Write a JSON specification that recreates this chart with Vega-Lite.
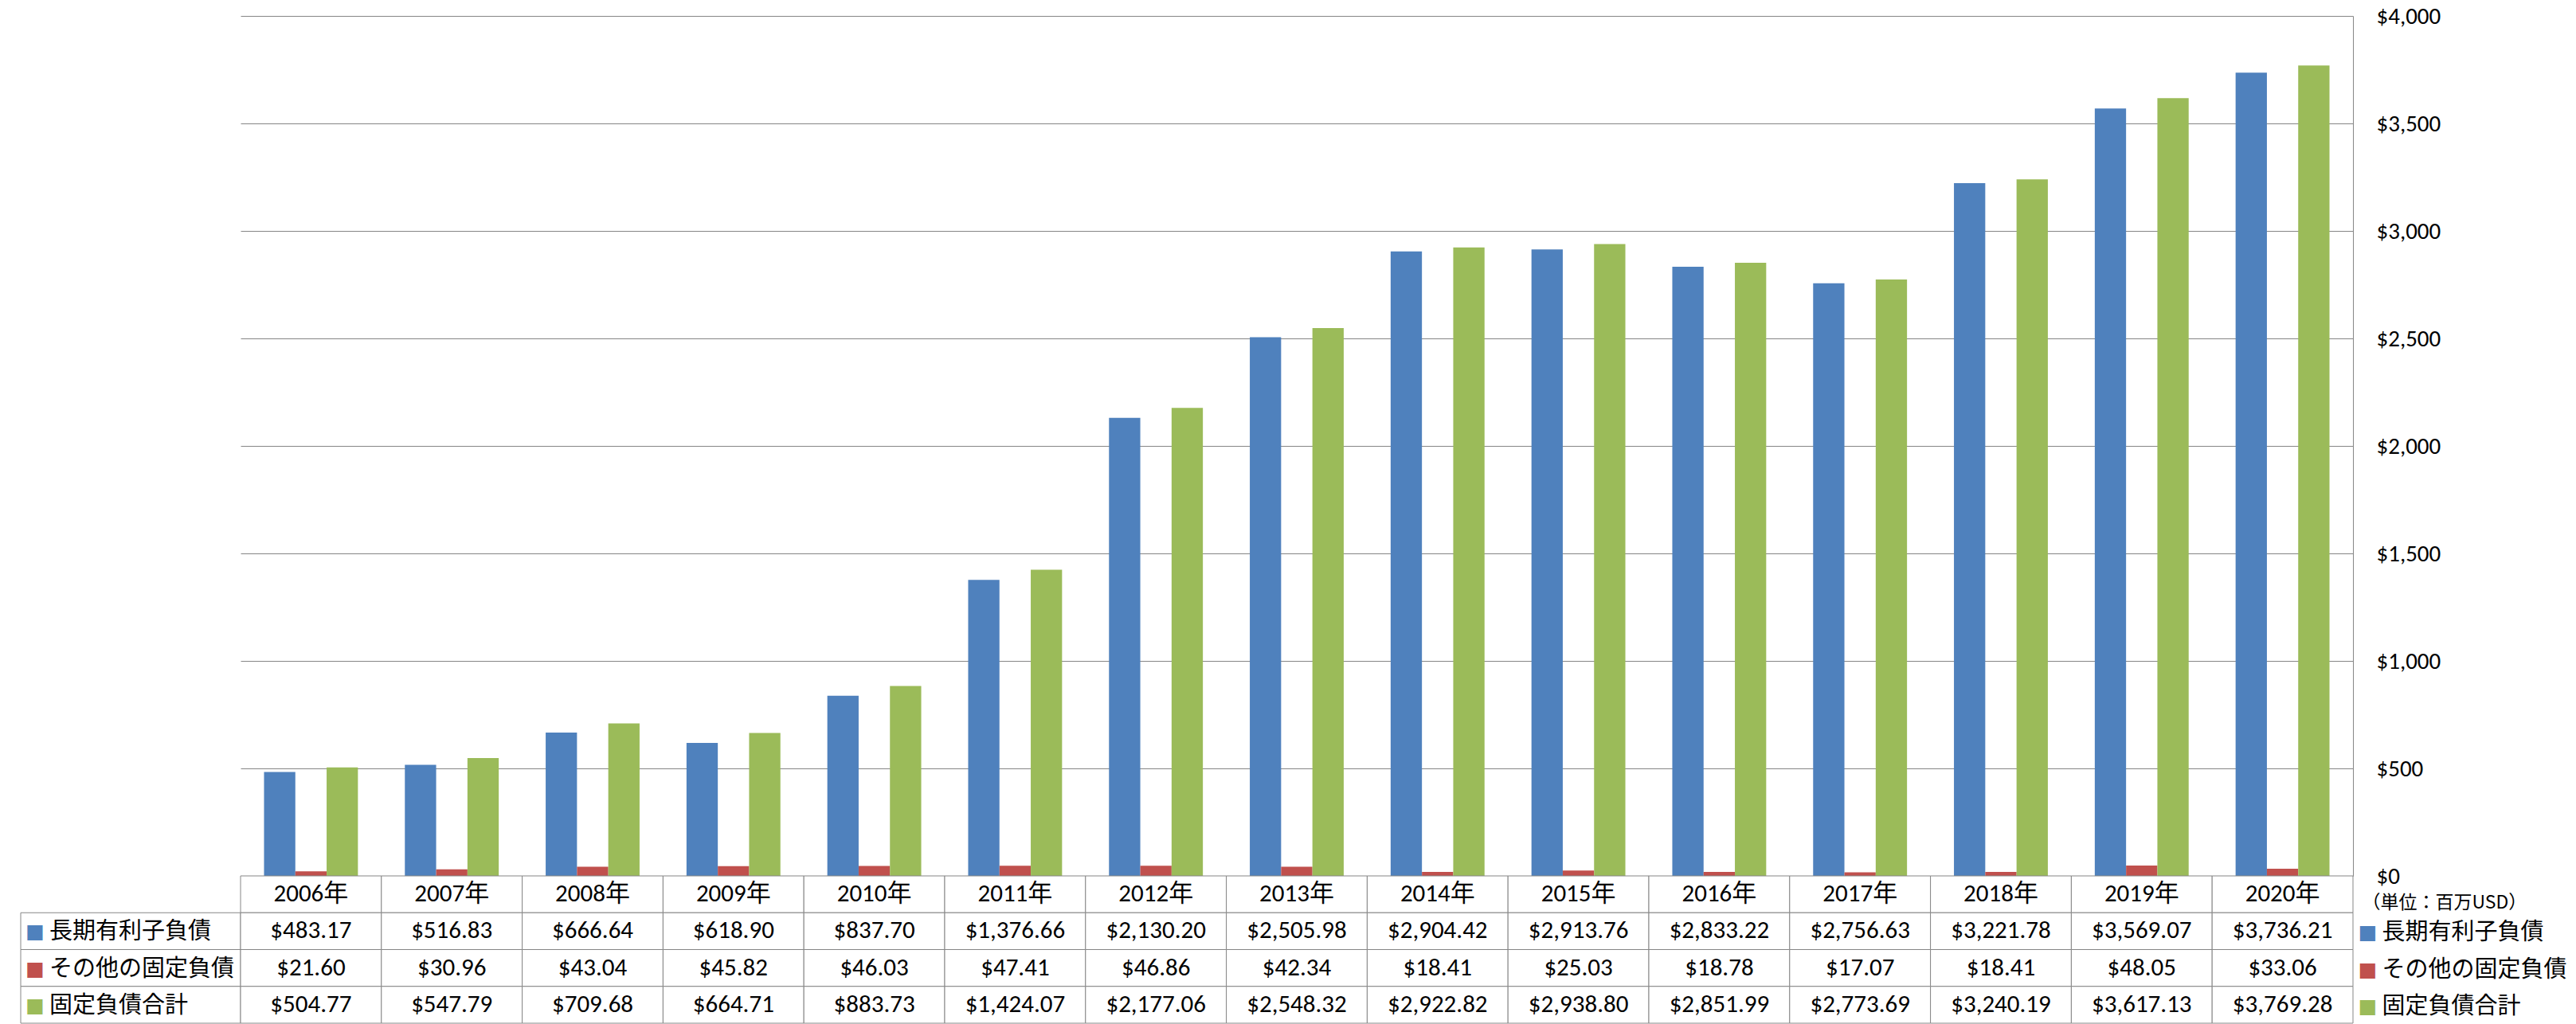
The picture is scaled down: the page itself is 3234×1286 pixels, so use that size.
{
  "$schema": "https://vega.github.io/schema/vega-lite/v6.json",
  "background": "white",
  "padding": {"left": 25, "top": 6, "right": 0, "bottom": 0},
  "config": {
    "view": {"stroke": null},
    "font": "Carlito, 'Noto Sans CJK JP', sans-serif",
    "text": {"color": "black"}
  },
  "datasets": {
    "d": [
      {"year": "2006年", "series": "長期有利子負債", "value": 483.17},
      {"year": "2006年", "series": "その他の固定負債", "value": 21.60},
      {"year": "2006年", "series": "固定負債合計", "value": 504.77},
      {"year": "2007年", "series": "長期有利子負債", "value": 516.83},
      {"year": "2007年", "series": "その他の固定負債", "value": 30.96},
      {"year": "2007年", "series": "固定負債合計", "value": 547.79},
      {"year": "2008年", "series": "長期有利子負債", "value": 666.64},
      {"year": "2008年", "series": "その他の固定負債", "value": 43.04},
      {"year": "2008年", "series": "固定負債合計", "value": 709.68},
      {"year": "2009年", "series": "長期有利子負債", "value": 618.90},
      {"year": "2009年", "series": "その他の固定負債", "value": 45.82},
      {"year": "2009年", "series": "固定負債合計", "value": 664.71},
      {"year": "2010年", "series": "長期有利子負債", "value": 837.70},
      {"year": "2010年", "series": "その他の固定負債", "value": 46.03},
      {"year": "2010年", "series": "固定負債合計", "value": 883.73},
      {"year": "2011年", "series": "長期有利子負債", "value": 1376.66},
      {"year": "2011年", "series": "その他の固定負債", "value": 47.41},
      {"year": "2011年", "series": "固定負債合計", "value": 1424.07},
      {"year": "2012年", "series": "長期有利子負債", "value": 2130.20},
      {"year": "2012年", "series": "その他の固定負債", "value": 46.86},
      {"year": "2012年", "series": "固定負債合計", "value": 2177.06},
      {"year": "2013年", "series": "長期有利子負債", "value": 2505.98},
      {"year": "2013年", "series": "その他の固定負債", "value": 42.34},
      {"year": "2013年", "series": "固定負債合計", "value": 2548.32},
      {"year": "2014年", "series": "長期有利子負債", "value": 2904.42},
      {"year": "2014年", "series": "その他の固定負債", "value": 18.41},
      {"year": "2014年", "series": "固定負債合計", "value": 2922.82},
      {"year": "2015年", "series": "長期有利子負債", "value": 2913.76},
      {"year": "2015年", "series": "その他の固定負債", "value": 25.03},
      {"year": "2015年", "series": "固定負債合計", "value": 2938.80},
      {"year": "2016年", "series": "長期有利子負債", "value": 2833.22},
      {"year": "2016年", "series": "その他の固定負債", "value": 18.78},
      {"year": "2016年", "series": "固定負債合計", "value": 2851.99},
      {"year": "2017年", "series": "長期有利子負債", "value": 2756.63},
      {"year": "2017年", "series": "その他の固定負債", "value": 17.07},
      {"year": "2017年", "series": "固定負債合計", "value": 2773.69},
      {"year": "2018年", "series": "長期有利子負債", "value": 3221.78},
      {"year": "2018年", "series": "その他の固定負債", "value": 18.41},
      {"year": "2018年", "series": "固定負債合計", "value": 3240.19},
      {"year": "2019年", "series": "長期有利子負債", "value": 3569.07},
      {"year": "2019年", "series": "その他の固定負債", "value": 48.05},
      {"year": "2019年", "series": "固定負債合計", "value": 3617.13},
      {"year": "2020年", "series": "長期有利子負債", "value": 3736.21},
      {"year": "2020年", "series": "その他の固定負債", "value": 33.06},
      {"year": "2020年", "series": "固定負債合計", "value": 3769.28}
    ],
    "series": [
      {"series": "長期有利子負債"},
      {"series": "その他の固定負債"},
      {"series": "固定負債合計"}
    ],
    "unit": [{"label": "（単位：百万USD）"}]
  },
  "columns": 3,
  "spacing": 0,
  "align": "each",
  "bounds": "flush",
  "concat": [
    {
      "width": 276, "height": 1080,
      "data": {"values": [{"s": ""}]},
      "mark": {"type": "text"},
      "encoding": {"text": {"field": "s"}}
    },
    {
      "width": 2652, "height": 1080,
      "data": {"name": "d"},
      "mark": {"type": "bar"},
      "encoding": {
        "x": {"field": "year", "type": "nominal", "sort": null, "scale": {"paddingInner": 0.3333, "paddingOuter": 0.1667}, "axis": null},
        "xOffset": {"field": "series", "type": "nominal", "sort": ["長期有利子負債", "その他の固定負債", "固定負債合計"], "scale": {"domain": ["長期有利子負債", "その他の固定負債", "固定負債合計"], "paddingInner": 0, "paddingOuter": 0}},
        "y": {
          "field": "value", "type": "quantitative",
          "scale": {"domain": [0, 4000], "nice": false},
          "axis": {
            "orient": "right", "values": [0, 500, 1000, 1500, 2000, 2500, 3000, 3500, 4000],
            "format": "$,.0f", "grid": true, "gridColor": "#868686", "gridWidth": 1,
            "domain": true, "domainColor": "#868686", "domainWidth": 1, "ticks": false,
            "labelPadding": 29, "labelFontSize": 29, "labelFont": "Carlito", "labelColor": "black", "title": null
          }
        },
        "color": {
          "field": "series", "type": "nominal",
          "scale": {"domain": ["長期有利子負債", "その他の固定負債", "固定負債合計"], "range": ["#4F81BD", "#C0504D", "#9BBB59"]},
          "legend": null
        }
      }
    },
    {
      "width": 277, "height": 1080,
      "data": {"values": [{"s": ""}]},
      "mark": {"type": "text"},
      "encoding": {"text": {"field": "s"}}
    },
    {
      "width": 276, "height": 185,
      "data": {"name": "series"},
      "layer": [
        {
          "mark": {"type": "rect", "fill": "white", "stroke": "#868686", "strokeWidth": 1},
          "encoding": {
            "y": {"field": "series", "type": "nominal", "scale": {"domain": ["header", "長期有利子負債", "その他の固定負債", "固定負債合計"], "paddingInner": 0, "paddingOuter": 0}, "axis": null}
          }
        },
        {
          "mark": {"type": "text", "text": "■", "fontSize": 25, "dx": -120, "dy": 1, "font": "DejaVu Sans"},
          "encoding": {
            "y": {"field": "series", "type": "nominal", "scale": {"domain": ["header", "長期有利子負債", "その他の固定負債", "固定負債合計"], "paddingInner": 0, "paddingOuter": 0}, "axis": null},
            "color": {"field": "series", "type": "nominal", "scale": {"domain": ["長期有利子負債", "その他の固定負債", "固定負債合計"], "range": ["#4F81BD", "#C0504D", "#9BBB59"]}, "legend": null}
          }
        },
        {
          "mark": {"type": "text", "align": "left", "dx": -102, "dy": 1, "fontSize": 29, "font": "Noto Sans CJK JP"},
          "encoding": {
            "y": {"field": "series", "type": "nominal", "scale": {"domain": ["header", "長期有利子負債", "その他の固定負債", "固定負債合計"], "paddingInner": 0, "paddingOuter": 0}, "axis": null},
            "text": {"field": "series"}
          }
        }
      ]
    },
    {
      "width": 2652, "height": 185,
      "data": {"name": "d"},
      "layer": [
        {
          "transform": [{"filter": "datum.series === '長期有利子負債'"}],
          "mark": {"type": "rect", "fill": "white", "stroke": "#868686", "strokeWidth": 1},
          "encoding": {
            "x": {"field": "year", "type": "nominal", "sort": null, "scale": {"paddingInner": 0, "paddingOuter": 0}, "axis": null},
            "y": {"datum": "header", "type": "nominal", "scale": {"domain": ["header", "長期有利子負債", "その他の固定負債", "固定負債合計"], "paddingInner": 0, "paddingOuter": 0}, "axis": null}
          }
        },
        {
          "mark": {"type": "rect", "fill": "white", "stroke": "#868686", "strokeWidth": 1},
          "encoding": {
            "x": {"field": "year", "type": "nominal", "sort": null, "axis": null},
            "y": {"field": "series", "type": "nominal", "axis": null}
          }
        },
        {
          "transform": [{"filter": "datum.series === '長期有利子負債'"}],
          "mark": {"type": "text", "fontSize": 31, "font": "Carlito, 'Noto Sans CJK JP'"},
          "encoding": {
            "x": {"field": "year", "type": "nominal", "sort": null, "axis": null},
            "y": {"datum": "header", "type": "nominal", "axis": null},
            "text": {"field": "year"}
          }
        },
        {
          "mark": {"type": "text", "fontSize": 31, "font": "Carlito, 'Noto Sans CJK JP'"},
          "encoding": {
            "x": {"field": "year", "type": "nominal", "sort": null, "axis": null},
            "y": {"field": "series", "type": "nominal", "axis": null},
            "text": {"field": "value", "type": "quantitative", "format": "$,.2f"}
          }
        }
      ]
    },
    {
      "width": 277, "height": 185,
      "layer": [
        {
          "data": {"name": "unit"},
          "mark": {"type": "text", "align": "left", "dx": -127, "dy": 11, "fontSize": 23, "font": "Noto Sans CJK JP"},
          "encoding": {
            "y": {"datum": "header", "type": "nominal", "scale": {"domain": ["header", "長期有利子負債", "その他の固定負債", "固定負債合計"], "paddingInner": 0, "paddingOuter": 0}, "axis": null},
            "text": {"field": "label"}
          }
        },
        {
          "data": {"name": "series"},
          "mark": {"type": "text", "text": "■", "fontSize": 25, "dx": -120, "dy": 2, "font": "DejaVu Sans"},
          "encoding": {
            "y": {"field": "series", "type": "nominal", "axis": null},
            "color": {"field": "series", "type": "nominal", "scale": {"domain": ["長期有利子負債", "その他の固定負債", "固定負債合計"], "range": ["#4F81BD", "#C0504D", "#9BBB59"]}, "legend": null}
          }
        },
        {
          "data": {"name": "series"},
          "mark": {"type": "text", "align": "left", "dx": -102, "dy": 2, "fontSize": 29, "font": "Noto Sans CJK JP"},
          "encoding": {
            "y": {"field": "series", "type": "nominal", "axis": null},
            "text": {"field": "series"}
          }
        }
      ]
    }
  ]
}
